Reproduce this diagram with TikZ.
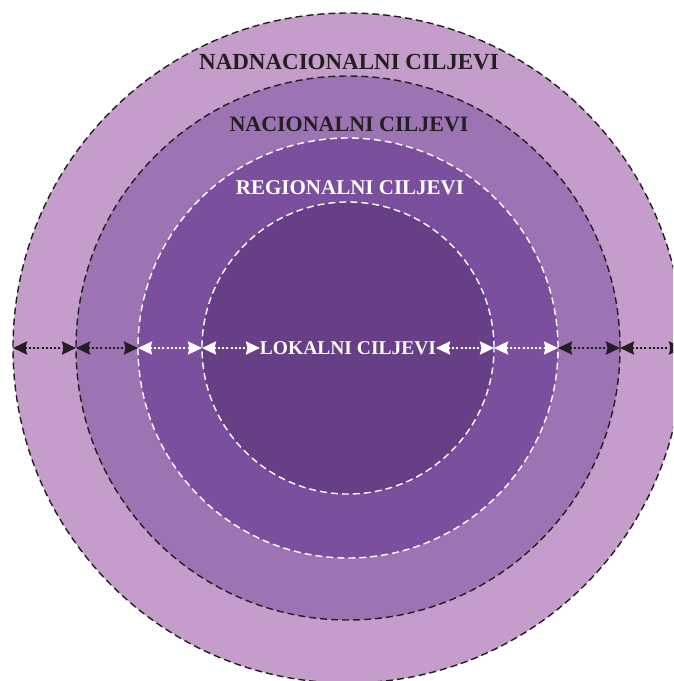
\documentclass[tikz,border=0pt]{standalone}
\usepackage{fontspec}
\setmainfont{Liberation Serif}
\usetikzlibrary{arrows.meta}
\definecolor{ringA}{HTML}{C59DCA}
\definecolor{ringB}{HTML}{9C74B3}
\definecolor{ringC}{HTML}{7A4F9E}
\definecolor{ringD}{HTML}{663F87}
\definecolor{inkdark}{HTML}{231F20}
\tikzset{
  ring/.style={circle, inner sep=0pt, outer sep=0pt, line width=1.4pt, dash pattern=on 7pt off 4pt},
  darkring/.style={ring, draw=inkdark},
  lightring/.style={ring, draw=white},
  arr/.style={line width=2.4pt, dash pattern=on 2pt off 2.2pt,
     {Stealth[length=14pt,width=13pt,inset=1.5pt]}-{Stealth[length=14pt,width=13pt,inset=1.5pt]}},
  darkarr/.style={arr, draw=inkdark, fill=inkdark},
  lightarr/.style={arr, draw=white, fill=white},
  lab/.style={font=\bfseries, inner sep=0pt, outer sep=0pt}
}
\begin{document}
\begin{tikzpicture}[x=1pt,y=-1pt]
\useasboundingbox (0,0) rectangle (673,681);
\clip (0,0) rectangle (673,681);
\fill[white] (0,0) rectangle (673,681);
\coordinate (c) at (348,348);
\node[darkring, fill=ringA, minimum size=670pt] (outer) at (c) {};
\node[darkring, fill=ringB, minimum size=544pt] (nac) at (c) {};
\node[lightring, fill=ringC, minimum size=420pt] (reg) at (c) {};
\node[lightring, fill=ringD, minimum size=292pt] (loc) at (c) {};
\node[lab, text=inkdark, font=\bfseries\fontsize{23}{23}\selectfont] (tnad) at (349,62) {NADNACIONALNI CILJEVI};
\node[lab, text=inkdark, font=\bfseries\fontsize{22}{22}\selectfont] (tnac) at (349,124.5) {NACIONALNI CILJEVI};
\node[lab, text=white, font=\bfseries\fontsize{21}{21}\selectfont] (treg) at (350,187.5) {REGIONALNI CILJEVI};
\node[lab, text=white, font=\bfseries\fontsize{19.5}{19.5}\selectfont] (tloc) at (348,348) {LOKALNI CILJEVI};
\draw[darkarr] (outer.west) -- (nac.west);
\draw[darkarr] (nac.west) -- (reg.west);
\draw[lightarr] (reg.west) -- (loc.west);
\draw[lightarr] (loc.west) -- (tloc.west);
\draw[lightarr] (tloc.east) -- (loc.east);
\draw[lightarr] (loc.east) -- (reg.east);
\draw[darkarr] (reg.east) -- (nac.east);
\draw[darkarr] (nac.east) -- (outer.east);
\end{tikzpicture}
\end{document}
